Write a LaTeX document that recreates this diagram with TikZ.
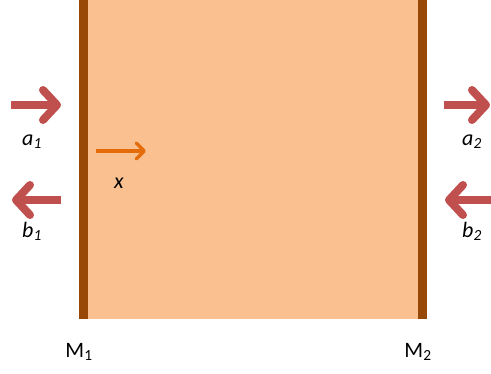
\documentclass[tikz,border=0pt]{standalone}
\usepackage{fontspec}
\setmainfont{Carlito}
\usetikzlibrary{arrows.meta, positioning}
\definecolor{cavity}{HTML}{FAC090}
\definecolor{mirrorbrown}{HTML}{984807}
\definecolor{wavered}{HTML}{C0504D}
\definecolor{axisorange}{HTML}{E46C0A}
\newcommand{\wlbl}[2]{\textit{#1}\textsubscript{\textit{#2}}}

\begin{document}
\begin{tikzpicture}[
  x=1pt, y=-1pt,
  mirror/.style={fill=mirrorbrown, draw=none},
  wave/.style={draw=wavered, line width=8pt, -{Straight Barb[length=14pt, width=30pt, round]}},
  axis/.style={draw=axisorange, line width=3.5pt, -{Straight Barb[length=8pt, width=16pt, round]}},
  lbl/.style={anchor=base, inner sep=0pt, font=\fontsize{22}{26}\selectfont}
]
\useasboundingbox (0,0) rectangle (491,373);
% cavity and mirrors
\fill[cavity] (79,0) rectangle (427,319);
\fill[mirror] (79,0) rectangle (88,319);
\fill[mirror] (418,0) rectangle (427,319);

% free ends of the arrows
\coordinate (a1s) at (11,105);
\coordinate (a1e) at (61,105);
\coordinate (b1s) at (61,200);
\coordinate (b1e) at (12,200);
\coordinate (a2s) at (444,105);
\coordinate (a2e) at (490,105);
\coordinate (b2s) at (491,200);
\coordinate (b2e) at (445,200);
\coordinate (xs) at (96,151);
\coordinate (xe) at (146,151);

\draw[wave] (a1s) -- (a1e);
\draw[wave] (b1s) -- (b1e);
\draw[wave] (a2s) -- (a2e);
\draw[wave] (b2s) -- (b2e);
\draw[axis] (xs) -- (xe);

% labels
\node[lbl] (la1) at (32,145) {\wlbl{a}{1}};
\node[lbl] (lb1) at (32,237) {\wlbl{b}{1}};
\node[lbl] (la2) at (472,145) {\wlbl{a}{2}};
\node[lbl] (lb2) at (472,237) {\wlbl{b}{2}};
\node[lbl] (lx) at (119,188) {\textit{x}};
\node[lbl] (lm1) at (79,357) {M\textsubscript{1}};
\node[lbl] (lm2) at (418,357) {M\textsubscript{2}};
\end{tikzpicture}
\end{document}
